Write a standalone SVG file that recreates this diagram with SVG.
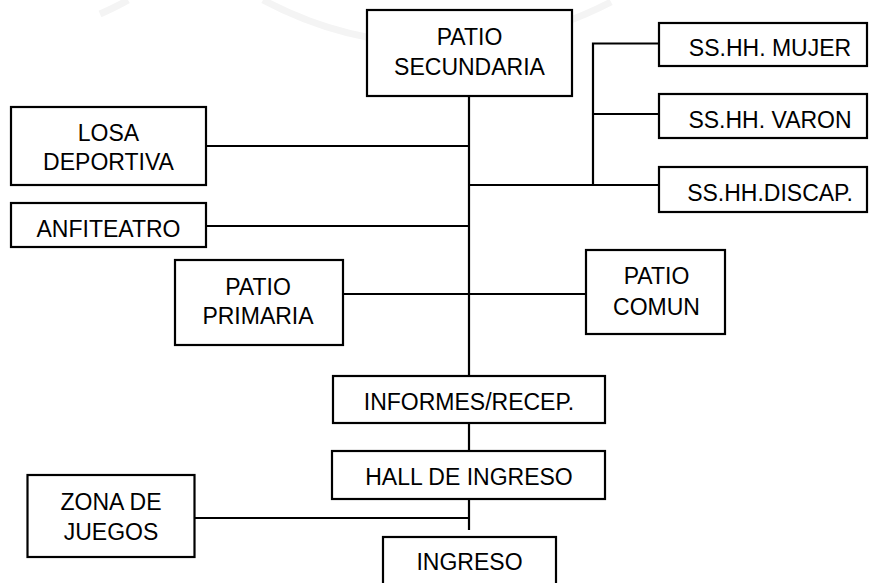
<svg xmlns="http://www.w3.org/2000/svg" width="869" height="583" viewBox="0 0 869 583">
<style>
.box{fill:#fff;stroke:#000;stroke-width:2.2}
.t{font-family:"Liberation Sans",Arial,sans-serif;font-size:23px;fill:#000;text-anchor:middle}
.c{stroke:#000;stroke-width:2.2;fill:none}
.wm{stroke:#f4f4f4;stroke-width:7;fill:none}
</style>
<rect width="869" height="583" fill="#fff"/>
<g id="watermark">
<path class="wm" d="M263,0 A373,373 0 0 0 611,2"/>
<path class="wm" d="M100,14 Q118,6 128,0"/>
</g>
<g id="connectors">
<line class="c" x1="469" y1="96" x2="469" y2="376"/>
<line class="c" x1="469" y1="423" x2="469" y2="451"/>
<line class="c" x1="469" y1="499" x2="469" y2="530"/>
<line class="c" x1="206" y1="146" x2="469" y2="146"/>
<line class="c" x1="206" y1="226" x2="469" y2="226"/>
<line class="c" x1="343" y1="294" x2="586" y2="294"/>
<line class="c" x1="469" y1="185" x2="659" y2="185"/>
<polyline class="c" points="659,43.5 593,43.5 593,185"/>
<line class="c" x1="593" y1="114" x2="659" y2="114"/>
<line class="c" x1="194" y1="518" x2="469" y2="518"/>
</g>
<g id="patio-secundaria">
<rect class="box" x="367" y="10" width="205" height="86"/>
<text class="t" x="469.5" y="45">PATIO</text>
<text class="t" x="469.5" y="74.5">SECUNDARIA</text>
</g>
<g id="sshh-mujer">
<rect class="box" x="659" y="23" width="208" height="43"/>
<text class="t" x="770" y="55.5">SS.HH. MUJER</text>
</g>
<g id="sshh-varon">
<rect class="box" x="659" y="94" width="208" height="44"/>
<text class="t" x="770" y="127.5">SS.HH. VARON</text>
</g>
<g id="sshh-discap">
<rect class="box" x="659" y="167" width="208" height="45"/>
<text class="t" x="770" y="201">SS.HH.DISCAP.</text>
</g>
<g id="losa-deportiva">
<rect class="box" x="11" y="107" width="195" height="78"/>
<text class="t" x="108.5" y="141">LOSA</text>
<text class="t" x="108.5" y="170">DEPORTIVA</text>
</g>
<g id="anfiteatro">
<rect class="box" x="11" y="203" width="195" height="44"/>
<text class="t" x="108.5" y="236.5">ANFITEATRO</text>
</g>
<g id="patio-primaria">
<rect class="box" x="175" y="260" width="168" height="85"/>
<text class="t" x="258" y="295">PATIO</text>
<text class="t" x="258" y="323.5">PRIMARIA</text>
</g>
<g id="patio-comun">
<rect class="box" x="586" y="250" width="139" height="84"/>
<text class="t" x="656.5" y="283.5">PATIO</text>
<text class="t" x="656.5" y="315">COMUN</text>
</g>
<g id="informes">
<rect class="box" x="333" y="376" width="272" height="47"/>
<text class="t" x="469" y="410">INFORMES/RECEP.</text>
</g>
<g id="hall-de-ingreso">
<rect class="box" x="332" y="451" width="273" height="48"/>
<text class="t" x="469" y="485">HALL DE INGRESO</text>
</g>
<g id="zona-de-juegos">
<rect class="box" x="27.5" y="475" width="167" height="82"/>
<text class="t" x="111" y="510">ZONA DE</text>
<text class="t" x="111" y="540">JUEGOS</text>
</g>
<g id="ingreso">
<rect class="box" x="383" y="537" width="173" height="60"/>
<text class="t" x="469.5" y="569.5">INGRESO</text>
</g>
</svg>
